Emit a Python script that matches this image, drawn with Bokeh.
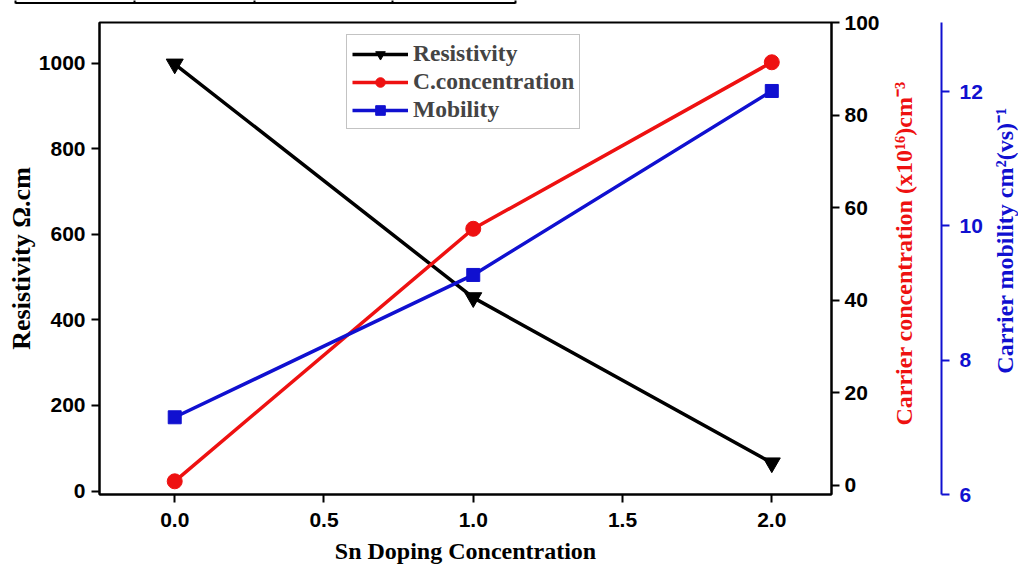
import math
from bokeh.plotting import figure
from bokeh.models import Range1d, LinearAxis, FixedTicker, Legend, LegendItem, Title
from bokeh.core.properties import value
from bokeh.embed import file_html
from bokeh.resources import INLINE

# ---- data ----
doping = [0.0, 1.0, 2.0]
resistivity = [998, 452, 66]
carrier_conc = [0.8, 55.4, 91.4]
mobility = [7.15, 9.27, 12.01]

x_ticks = [0.0, 0.5, 1.0, 1.5, 2.0]
x_tick_labels = {0.0: "0.0", 0.5: "0.5", 1.0: "1.0", 1.5: "1.5", 2.0: "2.0"}
res_ticks = [0, 200, 400, 600, 800, 1000]
conc_ticks = [0, 20, 40, 60, 80, 100]
mob_ticks = [6, 8, 10, 12]

conc_title = "Carrier concentration (x10\u00b9\u2076)cm\u207b\u00b3"
mob_title = "Carrier mobility cm\u00b2(vs)\u207b\u00b9"

# decorative table border strip above the chart (page columns, in page pixels)
table_cols = [15, 134, 254, 392, 515]

BLACK = "#000000"
RED = "#ee1111"
BLUE = "#1010d0"
TICK_FONT = "Liberation Sans"
SERIF = "Liberation Serif"

W, H = 1018, 567
FL, FR, FT, FB = 99, 831, 22, 494   # frame edges on the page

p = figure(width=W, height=H, x_range=Range1d(-0.252, 2.2), y_range=Range1d(-8, 1095),
           output_backend="svg", toolbar_location=None,
           min_border_left=FL, min_border_right=W - FR, min_border_top=FT, min_border_bottom=H - FB)
p.extra_y_ranges = {"conc": Range1d(-2.05, 100), "mob": Range1d(6, 13.03),
                    "page_y": Range1d(FB, FT)}
p.extra_x_ranges = {"page_x": Range1d(FL, FR)}
p.grid.visible = False
p.outline_line_color = "black"
p.outline_line_width = 2
p.background_fill_color = "white"
p.border_fill_color = "white"


def style_axis(ax, color_line, color_labels):
    ax.axis_line_color = color_line
    ax.axis_line_width = 2
    ax.major_tick_line_color = color_line
    ax.major_tick_line_width = 2
    ax.major_tick_in = 0
    ax.major_tick_out = 8
    ax.minor_tick_line_color = None
    ax.major_label_text_font = TICK_FONT
    ax.major_label_text_font_style = "bold"
    ax.major_label_text_font_size = "21px"
    ax.major_label_text_color = color_labels
    ax.axis_label_text_font = SERIF
    ax.axis_label_text_font_style = "bold"


# x axis
xa = p.xaxis[0]
xa.ticker = FixedTicker(ticks=x_ticks)
xa.major_label_overrides = x_tick_labels
xa.axis_label = "Sn Doping Concentration"
style_axis(xa, "black", "black")
xa.axis_label_text_font_size = "24px"
xa.axis_label_text_color = "black"
xa.major_label_standoff = 10
xa.axis_label_standoff = 8

# left axis
ya = p.yaxis[0]
ya.ticker = FixedTicker(ticks=res_ticks)
ya.axis_label = "Resistivity \u03a9.cm"
style_axis(ya, "black", "black")
ya.axis_label_text_font_size = "26px"
ya.axis_label_text_color = "black"
ya.major_label_standoff = 6
ya.axis_label_standoff = 0

# right axis 1: carrier concentration (title drawn separately, reading bottom-up)
ca = LinearAxis(y_range_name="conc", ticker=FixedTicker(ticks=conc_ticks))
style_axis(ca, "black", "black")
ca.major_label_standoff = 5
p.add_layout(ca, "right")

# spacer between the two right axes
p.add_layout(Title(text=" ", text_font_size="14px", standoff=41), "right")

# right axis 2: mobility
ma = LinearAxis(y_range_name="mob", ticker=FixedTicker(ticks=mob_ticks), bounds=(6, 13.03))
style_axis(ma, BLUE, BLUE)
ma.major_label_standoff = 10
p.add_layout(ma, "right")

# right-side axis titles (bottom-to-top reading), placed in page pixels
p.text(x=[903], y=[253], text=[conc_title], x_range_name="page_x", y_range_name="page_y",
       angle=math.pi / 2, text_align="center", text_baseline="middle",
       text_font=value(SERIF), text_font_style="bold", text_font_size="24px",
       text_color=RED, level="overlay")
p.text(x=[1004], y=[240], text=[mob_title], x_range_name="page_x", y_range_name="page_y",
       angle=math.pi / 2, text_align="center", text_baseline="middle",
       text_font=value(SERIF), text_font_style="bold", text_font_size="24px",
       text_color=BLUE, level="overlay")

# table border strip at the very top of the page
p.segment(x0=[table_cols[0]], y0=[2.5], x1=[table_cols[-1]], y1=[2.5],
          x_range_name="page_x", y_range_name="page_y",
          line_color="black", line_width=2, level="overlay")
p.segment(x0=table_cols, y0=[0] * len(table_cols), x1=table_cols, y1=[3] * len(table_cols),
          x_range_name="page_x", y_range_name="page_y",
          line_color="black", line_width=2, level="overlay")

# series
lr = p.line(doping, resistivity, line_color=BLACK, line_width=3.5)
sr = p.scatter(doping, resistivity, marker="inverted_triangle", size=17, fill_color=BLACK, line_color=BLACK)

lc = p.line(doping, carrier_conc, line_color=RED, line_width=3.5, y_range_name="conc")
sc = p.scatter(doping, carrier_conc, marker="circle", size=15, fill_color=RED, line_color=RED, y_range_name="conc")

lm = p.line(doping, mobility, line_color=BLUE, line_width=3.5, y_range_name="mob")
sm = p.scatter(doping, mobility, marker="square", size=13, fill_color=BLUE, line_color=BLUE, y_range_name="mob")

legend = Legend(items=[
    LegendItem(label="Resistivity", renderers=[lr, sr]),
    LegendItem(label="C.concentration", renderers=[lc, sc]),
    LegendItem(label="Mobility", renderers=[lm, sm]),
], location=(247, 365))
legend.label_text_font = SERIF
legend.label_text_font_style = "bold"
legend.label_text_font_size = "23.5px"
legend.border_line_color = "#888888"
legend.border_line_width = 1
legend.glyph_width = 56
legend.glyph_height = 24
legend.label_height = 24
legend.label_standoff = 5
legend.spacing = 1
legend.padding = 5
legend.margin = 0
legend.background_fill_alpha = 1
p.add_layout(legend)

open("out.html", "w").write(file_html(p, INLINE))
